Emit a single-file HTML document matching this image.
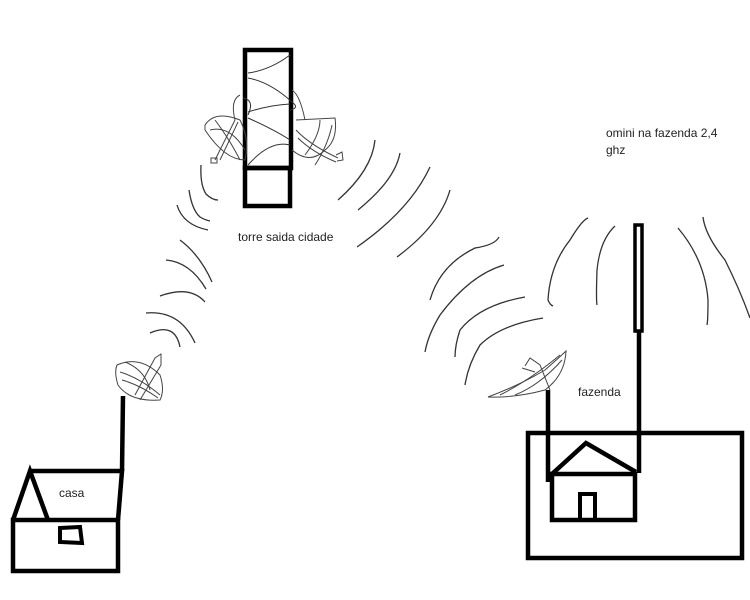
<!DOCTYPE html>
<html><head><style>
html,body{margin:0;padding:0;background:#fff;}
svg{display:block;}
text{font-family:"Liberation Sans",sans-serif;font-size:12px;fill:#222;}
</style></head><body>
<svg width="750" height="600" viewBox="0 0 750 600" xmlns="http://www.w3.org/2000/svg">
<rect width="750" height="600" fill="#fff"/>
<g fill="none" stroke="#000" stroke-width="4.5" stroke-linejoin="miter">
 <!-- tower -->
 <rect x="245" y="50" width="46" height="118"/>
 <rect x="245" y="168" width="45" height="38"/>
 <!-- casa -->
 <rect x="13" y="520" width="105" height="51"/>
 <path d="M13 520 L30 471 L48 520"/>
 <path d="M30 471 L122 471 L118 520"/>
 <path d="M122 471 L123 396"/>
 <path d="M60 528 L80 527 L82 543 L60 542 Z" stroke-width="4"/>
 <!-- fazenda -->
 <rect x="528" y="433" width="214" height="125"/>
 <rect x="552" y="474" width="83" height="46"/>
 <path d="M552 474 L586 443 L636 472"/>
 <path d="M580 520 L580 494 L595 494 L595 520" stroke-width="4"/>
 <path d="M548 390 L548 482"/>
 <path d="M639 332 L639 473"/>
 <rect x="635" y="225" width="7" height="106" stroke-width="3.5"/>
</g>
<g fill="none" stroke="#333" stroke-width="1.3">
 <!-- tower right waves -->
 <path d="M375 140 Q372 170 338 200"/>
 <path d="M400 153 Q395 180 358 210"/>
 <path d="M430 167 Q410 210 357 247"/>
 <path d="M450 190 Q440 225 397 257"/>
 <!-- farm dish waves -->
 <path d="M499 237 Q495 245 475 248 Q440 265 430 300"/>
 <path d="M504 265 Q470 275 440 315 Q428 335 425 352"/>
 <path d="M525 297 Q480 305 460 330 Q455 345 455 357"/>
 <path d="M543 318 Q500 325 480 345 Q468 365 465 385"/>
 <!-- omni waves -->
 <path d="M588 218 Q582 220 570 240 Q550 265 548 300 Q550 305 553 306"/>
 <path d="M615 226 Q600 240 597 270 Q596 300 597 305"/>
 <path d="M678 228 Q705 260 708 300 Q708 320 707 325"/>
 <path d="M703 217 Q705 235 725 260 Q740 290 750 318"/>
 <!-- left waves -->
 <path d="M201 165 Q200 185 206 194 Q212 200 218 200"/>
 <path d="M189 190 Q192 210 200 217 Q205 220 210 221"/>
 <path d="M177 205 Q183 225 208 230"/>
 <path d="M180 240 Q200 255 212 282"/>
 <path d="M166 260 Q190 262 206 289"/>
 <path d="M160 296 Q190 285 205 302"/>
 <path d="M146 313 Q180 310 195 343"/>
 <path d="M150 333 Q175 322 180 347"/>
</g>
<!-- sketchy dishes -->
<g fill="none" stroke="#444" stroke-width="1">
 <!-- tower left dish -->
 <path d="M205 125 Q215 110 240 120 Q250 140 245 160 Q225 160 205 130 Z"/>
 <path d="M210 130 Q230 125 245 150"/>
 <path d="M215 120 Q230 140 240 160"/>
 <path d="M240 95 Q230 100 235 120"/>
 <path d="M215 160 L235 120 M220 160 L238 122"/>
 <rect x="211" y="158" width="6" height="5"/>
 <!-- tower right dish -->
 <path d="M296 120 L335 118 Q338 140 325 150 Q310 165 292 150"/>
 <path d="M296 130 Q310 145 338 158 M298 138 Q312 152 336 162"/>
 <path d="M305 155 Q320 135 320 120 M315 165 Q328 145 332 125"/>
 <path d="M336 155 L342 152 L343 160 L337 161"/>
 <path d="M292 90 Q300 95 305 120"/>
 <!-- casa dish -->
 <path d="M117 365 Q140 355 160 375 Q165 390 160 400 Q130 402 118 385 Q114 372 117 365 Z"/>
 <path d="M120 372 Q140 378 160 395 M122 380 Q140 385 158 398"/>
 <path d="M135 395 L155 358 L161 354 L161 365 L140 400"/>
 <path d="M125 362 Q145 370 150 390"/>
 <!-- farm dish -->
 <path d="M488 397 Q520 385 545 370 Q562 355 566 351 Q565 375 545 390 Q515 398 488 397 Z"/>
 <path d="M500 395 Q530 380 560 355 M515 395 Q540 385 562 360"/>
 <path d="M525 366 L530 358 L540 365 L550 390 M522 368 L535 372"/>
</g>
<!-- inner tower scribbles -->
<g fill="none" stroke="#333" stroke-width="1">
 <path d="M248 73 Q270 70 290 55"/>
 <path d="M248 78 Q270 82 292 102 Q300 108 290 110"/>
 <path d="M248 112 Q270 105 290 104"/>
 <path d="M248 118 Q275 130 290 140"/>
 <path d="M248 165 Q270 140 290 145"/>
 <path d="M243 98 Q255 100 248 115"/>
</g>
<text x="238" y="241">torre saida cidade</text>
<text x="606" y="137">omini na fazenda 2,4</text>
<text x="606" y="154">ghz</text>
<text x="578" y="396">fazenda</text>
<text x="59" y="497">casa</text>
</svg>
</body></html>
